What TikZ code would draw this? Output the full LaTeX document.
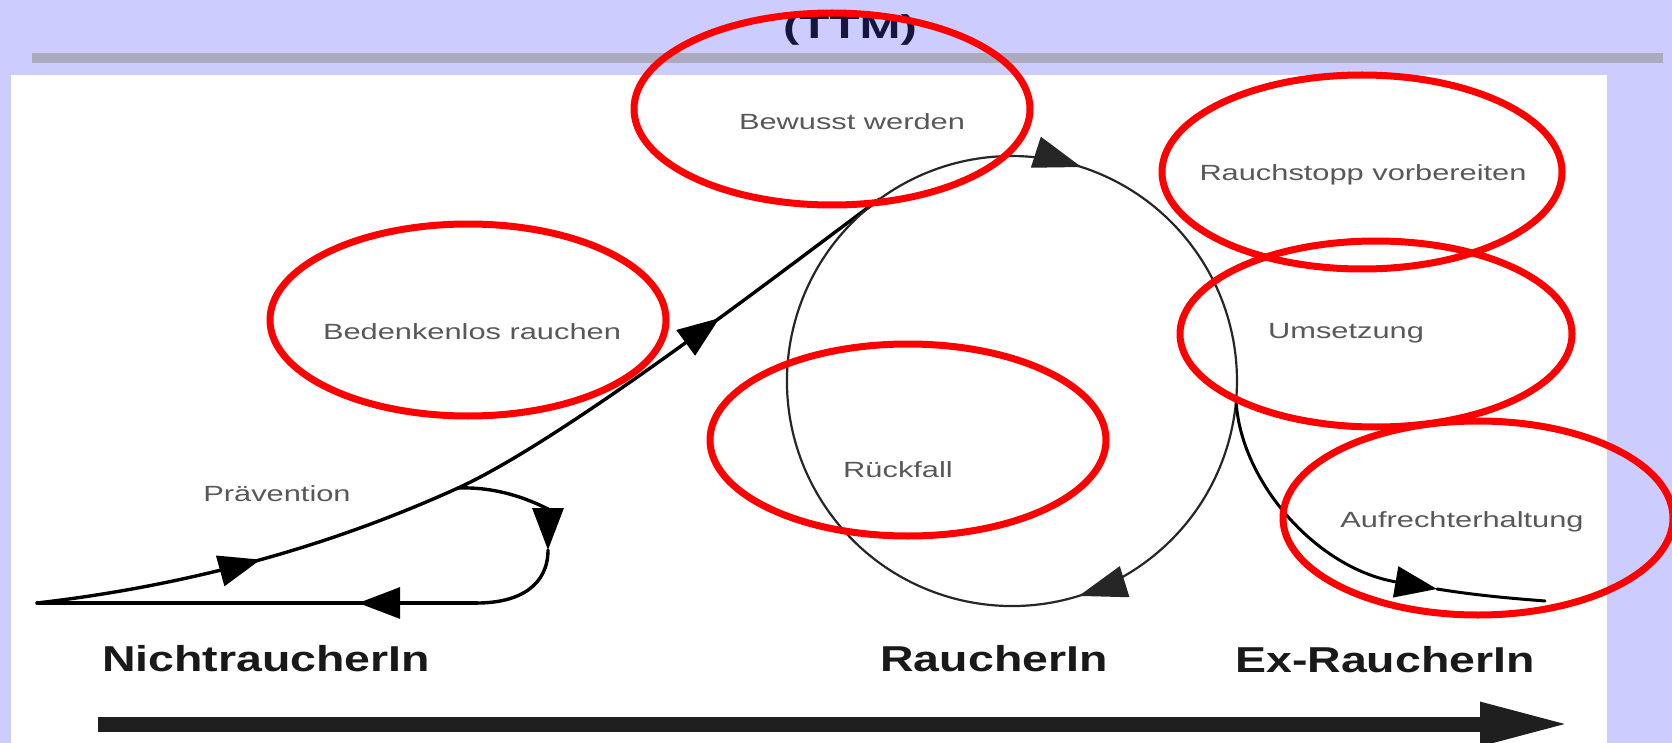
\documentclass[tikz,border=0pt]{standalone}
\usepackage{fontspec}
\setmainfont{Liberation Sans}
\usetikzlibrary{arrows.meta,decorations.markings}
\definecolor{lav}{RGB}{204,204,255}
\definecolor{barg}{RGB}{172,170,190}
\definecolor{txtg}{RGB}{88,88,88}
\definecolor{navy}{RGB}{22,22,60}
\definecolor{redc}{RGB}{255,0,0}
\newcommand{\wstretch}[2]{\scalebox{#1}[1]{#2}}
\begin{document}
\begin{tikzpicture}[x=1pt,y=-1pt,
  >={Triangle[length=42pt,width=31pt]},
  twoarr/.style 2 args={postaction={decorate},decoration={markings,
     mark=at position #1 with {\arrow{>}},
     mark=at position #2 with {\arrow{>}}}},
  onearr/.style={postaction={decorate},decoration={markings,
     mark=at position #1 with {\arrow{>}}}},
  ringarr/.style 2 args={postaction={decorate},decoration={markings,
     mark=at position #1 with {\arrow{Triangle[length=48pt,width=32pt]}},
     mark=at position #2 with {\arrow{Triangle[length=48pt,width=32pt]}}}},
  curve/.style={line width=3.4pt, black, line cap=round},
  ring/.style={line width=2.2pt, black!85},
  lab/.style={text=txtg, font=\fontsize{22pt}{26pt}\selectfont, inner sep=0pt},
  stage/.style={text=black!90, font=\fontsize{36pt}{40pt}\selectfont\bfseries, inner sep=0pt},
  hl/.style={draw=redc, line width=7pt},
]
\useasboundingbox (0,0) rectangle (1672,743);
% background
\fill[lav] (0,0) rectangle (1672,743);
\fill[barg] (32,53) rectangle (1663,63);
\fill[white] (11,75) rectangle (1607,743);
\node[text=navy, font=\fontsize{33pt}{37pt}\selectfont\bfseries, inner sep=0pt] (ttm) at (850,30) {\wstretch{1.49}{(TTM)}};

% coordinates
\coordinate (S) at (37,603);
\coordinate (L0) at (458,488);
\coordinate (M) at (879.7,199);
\coordinate (C) at (1012,381);
\coordinate (Br) at (1236.1,400.6);
\coordinate (LA) at (548,550);
\coordinate (LB) at (477,603);
\coordinate (BA) at (1437,589);
\coordinate (BE) at (1545,601);
\coordinate (T0) at (98,724);
\coordinate (T1) at (1570,724);

% main rising curve
\draw[curve, twoarr={0.24}{0.79}] (S) .. controls (150,590) and (300,560) .. (L0)
   .. controls (568,438) and (799,258) .. (M);
% circle
\draw[ring, ringarr={0.15}{0.552}] (M) arc[start angle=234, end angle=594, radius=225];
% small loop back to non-smoker
\draw[curve, ->] (L0) .. controls (510,486) and (548,510) .. (LA);
\draw[curve] (LA) .. controls (548,585) and (520,603) .. (LB);
\draw[curve, onearr=0.27] (LB) -- (S);
% branch to maintenance
\draw[curve, line width=3pt, ->] (Br) .. controls (1240,480) and (1315,568) .. (BA);
\draw[curve, line width=3pt] (BA) .. controls (1480,596) and (1520,599) .. (BE);

% big time arrow
\draw[line width=15pt, black!88, -{Triangle[length=90pt,width=40pt]}] (T0) -- (T1);

% labels
\node[lab] (bw) at (852,122) {\wstretch{1.4}{Bewusst werden}};
\node[lab] (rv) at (1363,175) {\wstretch{1.4}{Rauchstopp vorbereiten}};
\node[lab] (br) at (472,332) {\wstretch{1.4}{Bedenkenlos rauchen}};
\node[lab] (um) at (1346,333) {\wstretch{1.4}{Umsetzung}};
\node[lab] (rf) at (898,470) {\wstretch{1.4}{Rückfall}};
\node[lab] (pv) at (277,494) {\wstretch{1.4}{Prävention}};
\node[lab] (ah) at (1462,522) {\wstretch{1.4}{Aufrechterhaltung}};

\node[stage] (nr) at (266,659) {\wstretch{1.29}{NichtraucherIn}};
\node[stage] (ra) at (994,659) {\wstretch{1.29}{RaucherIn}};
\node[stage] (ex) at (1385,660) {\wstretch{1.29}{Ex-RaucherIn}};

% red highlight ellipses
\draw[hl] (832,109) ellipse [x radius=198, y radius=96];
\draw[hl] (1362,172) ellipse [x radius=200, y radius=97];
\draw[hl] (468,320) ellipse [x radius=198, y radius=96];
\draw[hl] (1376,334) ellipse [x radius=196, y radius=93];
\draw[hl] (908,440) ellipse [x radius=198, y radius=96];
\draw[hl] (1478,518) ellipse [x radius=195, y radius=97];
\end{tikzpicture}
\end{document}
